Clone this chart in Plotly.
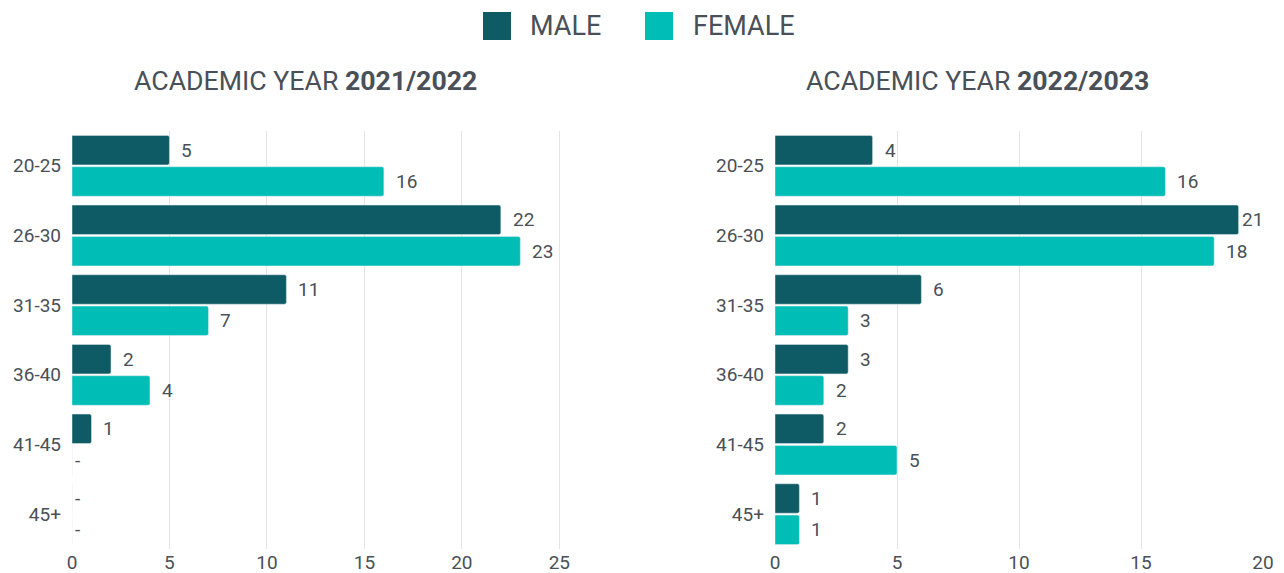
import plotly.graph_objects as go

age_groups = ["20-25", "26-30", "31-35", "36-40", "41-45", "45+"]
male_2122 = [5, 22, 11, 2, 1, 0]
female_2122 = [16, 23, 7, 4, 0, 0]
male_2223 = [4, 19, 6, 3, 2, 1]
female_2223 = [16, 18, 3, 2, 5, 1]
male_2122_labels = ["5", "22", "11", "2", "1", "-"]
female_2122_labels = ["16", "23", "7", "4", "-", "-"]
male_2223_labels = ["4", "21", "6", "3", "2", "1"]
female_2223_labels = ["16", "18", "3", "2", "5", "1"]
x_ticks_2122 = [0, 5, 10, 15, 20, 25]
x_ticks_2223 = [0, 5, 10, 15, 20]

MALE = "#0f5b65"
FEMALE = "#00bdb5"
TEXT = "#4a5057"
FONT = "Roboto"

# page has an 8px body margin; figure sized/placed so reference pixel coords map correctly
W, H = 1276, 565
ML, MR, MT, MB = 64, 21, 123, 24
PW = W - ML - MR
PH = H - MT - MB


def px(pix):  # reference page x pixel -> paper
    return (pix - 8 - ML) / PW


def py(pix):  # reference page y pixel -> paper
    return (H - MB - (pix - 8)) / PH


fig = go.Figure()

panels = [
    ("x", "y", male_2122, female_2122, male_2122_labels, female_2122_labels),
    ("x2", "y2", male_2223, female_2223, male_2223_labels, female_2223_labels),
]
for xa, ya, m, f, ml, fl in panels:
    fig.add_trace(go.Bar(y=age_groups, x=m, orientation="h", marker=dict(color=MALE, cornerradius=2),
                         name="MALE", xaxis=xa, yaxis=ya, showlegend=False, offsetgroup="m"))
    fig.add_trace(go.Bar(y=age_groups, x=f, orientation="h", marker=dict(color=FEMALE, cornerradius=2),
                         name="FEMALE", xaxis=xa, yaxis=ya, showlegend=False, offsetgroup="f"))
    for vals, labs, shift in [(m, ml, -0.225), (f, fl, 0.225)]:
        for k, (v, t) in enumerate(zip(vals, labs)):
            if v == 0:
                xs = 1
            elif t != str(v):
                xs = 1
            else:
                xs = 10
            fig.add_annotation(x=v, y=k + shift, xref=xa, yref=ya, text=t, showarrow=False,
                               xanchor="left", yanchor="middle", xshift=xs,
                               font=dict(family=FONT, size=19, color=TEXT))

axis_common = dict(showgrid=True, gridcolor="#e4e4e4", gridwidth=1, zeroline=False, showline=False,
                   ticks="", automargin=False, tickfont=dict(family=FONT, size=19, color=TEXT))
yaxis_common = dict(showgrid=False, zeroline=False, showline=False, ticks="", automargin=False,
                    categoryorder="array", categoryarray=age_groups, autorange="reversed",
                    tickfont=dict(family=FONT, size=19, color=TEXT), ticklabelstandoff=10)

fig.update_layout(
    width=W, height=H,
    paper_bgcolor="white", plot_bgcolor="white",
    margin=dict(l=ML, r=MR, t=MT, b=MB),
    barmode="group", bargap=0.1, bargroupgap=0.06,
    showlegend=False,
    xaxis=dict(domain=[0, px(610)], range=[0, 27.6], tickvals=x_ticks_2122, anchor="y", **axis_common),
    xaxis2=dict(domain=[px(775), 1], range=[0, 20], tickvals=x_ticks_2223, anchor="y2", **axis_common),
    yaxis=dict(anchor="x", **yaxis_common),
    yaxis2=dict(anchor="x2", **yaxis_common),
    font=dict(family=FONT, color=TEXT),
)

# Subplot titles
for xc, yr in [(305, "2021/2022"), (977, "2022/2023")]:
    fig.add_annotation(x=px(xc), y=py(81), xref="paper", yref="paper",
                       text=f"ACADEMIC YEAR <b>{yr}</b>",
                       showarrow=False, xanchor="center", yanchor="middle",
                       font=dict(family=FONT, size=26.7, color=TEXT))

# Legend drawn manually
for sx, tx, name, col in [(483, 528, "MALE", MALE), (645, 691, "FEMALE", FEMALE)]:
    fig.add_shape(type="rect", xref="paper", yref="paper", x0=px(sx), x1=px(sx + 28),
                  y0=py(40), y1=py(12), fillcolor=col, line=dict(width=0))
    fig.add_annotation(x=px(tx), y=py(26), xref="paper", yref="paper", text=name, showarrow=False,
                       xanchor="left", yanchor="middle", font=dict(family=FONT, size=27, color=TEXT))

fig.write_html("out.html")
